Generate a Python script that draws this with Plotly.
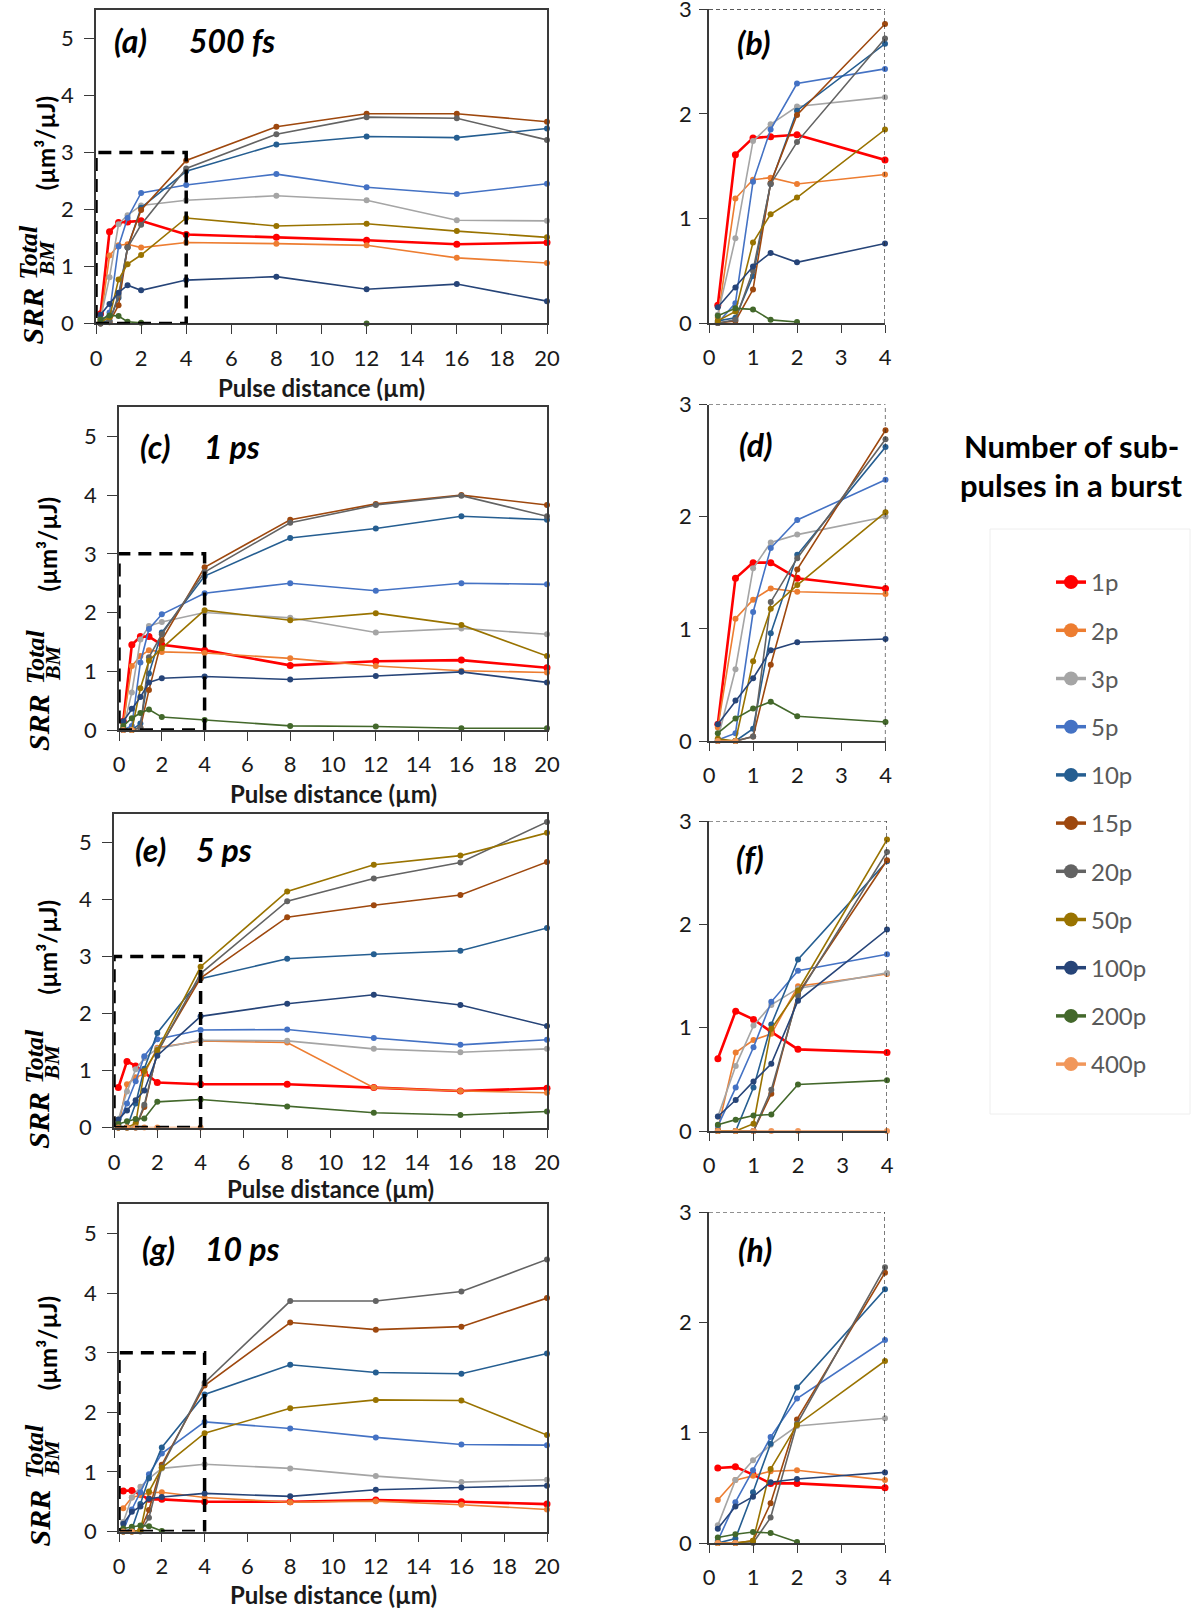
import plotly.graph_objects as go

W, H = 1201, 1609

# ---------------- data ----------------
X_DIST = [0.2, 0.6, 1, 1.4, 2, 4, 8, 12, 16, 20]
N_ZOOM = 6  # distances <= 4 µm shown in the zoomed panels

SERIES = ["1p", "2p", "3p", "5p", "10p", "15p", "20p", "50p", "100p", "200p", "400p"]
COLORS = ["#FF0000", "#ED7D31", "#A5A5A5", "#4472C4", "#255E91", "#9E480E",
          "#636363", "#997300", "#264478", "#43682B", "#F1975A"]

LEFT_X_TICKS = [0, 2, 4, 6, 8, 10, 12, 14, 16, 18, 20]
RIGHT_X_TICKS = [0, 1, 2, 3, 4]
LEFT_Y_TICKS = [0, 1, 2, 3, 4, 5]
RIGHT_Y_TICKS = [0, 1, 2, 3]
ZOOM_X = [0, 4]
ZOOM_Y = [0, 3]

# 500 fs
fs500_1p = [0.17, 1.61, 1.77, 1.78, 1.80, 1.56, 1.51, 1.46, 1.39, 1.42]
fs500_2p = [0.05, 1.19, 1.37, 1.39, 1.33, 1.42, 1.40, 1.37, 1.15, 1.06]
fs500_3p = [0.08, 0.81, 1.74, 1.90, 2.07, 2.16, 2.24, 2.16, 1.81, 1.80]
fs500_5p = [0.00, 0.19, 1.35, 1.85, 2.29, 2.43, 2.62, 2.39, 2.27, 2.45]
fs500_10p = [0.02, 0.05, 0.45, 1.33, 2.03, 2.67, 3.14, 3.28, 3.26, 3.42]
fs500_15p = [0.00, 0.02, 0.32, 1.34, 1.99, 2.86, 3.45, 3.68, 3.68, 3.54]
fs500_20p = [0.00, 0.03, 0.50, 1.33, 1.73, 2.72, 3.32, 3.62, 3.60, 3.22]
fs500_50p = [0.02, 0.11, 0.77, 1.04, 1.20, 1.85, 1.71, 1.75, 1.62, 1.51]
fs500_100p = [0.15, 0.34, 0.54, 0.67, 0.58, 0.76, 0.82, 0.60, 0.69, 0.39]
fs500_200p = [0.07, 0.14, 0.13, 0.03, 0.01, None, None, 0.00, None, None]
fs500_400p = [None, None, None, None, None, None, None, None, None, None]

# 1 ps
ps1_1p = [0.15, 1.45, 1.59, 1.59, 1.45, 1.36, 1.10, 1.17, 1.19, 1.06]
ps1_2p = [0.12, 1.09, 1.26, 1.36, 1.33, 1.31, 1.22, 1.09, 1.01, 0.98]
ps1_3p = [0.02, 0.64, 1.54, 1.77, 1.84, 2.00, 1.91, 1.66, 1.73, 1.63]
ps1_5p = [0.01, 0.07, 1.15, 1.72, 1.97, 2.33, 2.50, 2.37, 2.50, 2.48]
ps1_10p = [0.00, 0.00, 0.11, 0.96, 1.66, 2.62, 3.27, 3.43, 3.64, 3.58]
ps1_15p = [0.00, 0.00, 0.04, 0.68, 1.53, 2.77, 3.58, 3.85, 4.00, 3.83]
ps1_20p = [0.00, 0.00, 0.04, 1.24, 1.63, 2.69, 3.53, 3.83, 3.99, 3.64]
ps1_50p = [0.02, 0.00, 0.71, 1.18, 1.39, 2.04, 1.87, 1.99, 1.79, 1.26]
ps1_100p = [0.15, 0.36, 0.56, 0.81, 0.88, 0.91, 0.86, 0.92, 0.99, 0.81]
ps1_200p = [0.07, 0.20, 0.29, 0.35, 0.22, 0.17, 0.07, 0.06, 0.03, 0.03]
ps1_400p = [0.00, 0.00, None, None, None, None, None, None, None, None]

# 5 ps
ps5_1p = [0.70, 1.16, 1.08, 0.96, 0.79, 0.76, 0.76, 0.70, 0.64, 0.69]
ps5_2p = [0.02, 0.76, 0.88, 0.94, 1.40, 1.52, 1.49, 0.70, 0.64, 0.61]
ps5_3p = [0.14, 0.63, 1.02, 1.22, 1.38, 1.53, 1.52, 1.38, 1.32, 1.38]
ps5_5p = [0.05, 0.42, 0.81, 1.25, 1.55, 1.71, 1.72, 1.57, 1.45, 1.54]
ps5_10p = [0.00, 0.00, 0.42, 1.03, 1.66, 2.61, 2.96, 3.04, 3.10, 3.50]
ps5_15p = [0.00, 0.00, 0.00, 0.36, 1.33, 2.62, 3.69, 3.90, 4.08, 4.66]
ps5_20p = [0.00, 0.00, 0.00, 0.40, 1.31, 2.70, 3.97, 4.37, 4.65, 5.36]
ps5_50p = [0.00, 0.00, 0.07, 0.99, 1.36, 2.82, 4.14, 4.61, 4.77, 5.17]
ps5_100p = [0.14, 0.30, 0.48, 0.65, 1.26, 1.95, 2.17, 2.33, 2.15, 1.78]
ps5_200p = [0.06, 0.11, 0.15, 0.16, 0.45, 0.49, 0.37, 0.26, 0.22, 0.28]
ps5_400p = [0.00, 0.00, 0.00, 0.00, 0.00, 0.00, None, None, None, None]

# 10 ps
ps10_1p = [0.68, 0.69, 0.62, 0.54, 0.54, 0.50, 0.50, 0.53, 0.50, 0.46]
ps10_2p = [0.39, 0.57, 0.61, 0.65, 0.66, 0.57, 0.49, 0.51, 0.45, 0.37]
ps10_3p = [0.16, 0.57, 0.75, 0.89, 1.06, 1.13, 1.06, 0.93, 0.83, 0.87]
ps10_5p = [0.02, 0.37, 0.66, 0.96, 1.31, 1.84, 1.73, 1.58, 1.46, 1.45]
ps10_10p = [0.00, 0.04, 0.46, 0.90, 1.41, 2.30, 2.80, 2.67, 2.65, 2.99]
ps10_15p = [0.00, 0.00, 0.02, 0.36, 1.12, 2.45, 3.51, 3.39, 3.44, 3.92]
ps10_20p = [0.00, 0.00, 0.00, 0.23, 1.08, 2.50, 3.87, 3.87, 4.03, 4.57]
ps10_50p = [0.00, 0.00, 0.02, 0.67, 1.07, 1.65, 2.07, 2.21, 2.20, 1.62]
ps10_100p = [0.13, 0.33, 0.42, 0.55, 0.58, 0.64, 0.59, 0.70, 0.74, 0.77]
ps10_200p = [0.05, 0.08, 0.10, 0.09, 0.01, None, None, None, None, None]
ps10_400p = [0.00, 0.00, None, None, None, None, None, None, None, None]

FS500 = [fs500_1p, fs500_2p, fs500_3p, fs500_5p, fs500_10p, fs500_15p,
         fs500_20p, fs500_50p, fs500_100p, fs500_200p, fs500_400p]
PS1 = [ps1_1p, ps1_2p, ps1_3p, ps1_5p, ps1_10p, ps1_15p,
       ps1_20p, ps1_50p, ps1_100p, ps1_200p, ps1_400p]
PS5 = [ps5_1p, ps5_2p, ps5_3p, ps5_5p, ps5_10p, ps5_15p,
       ps5_20p, ps5_50p, ps5_100p, ps5_200p, ps5_400p]
PS10 = [ps10_1p, ps10_2p, ps10_3p, ps10_5p, ps10_10p, ps10_15p,
        ps10_20p, ps10_50p, ps10_100p, ps10_200p, ps10_400p]

# ---------------- layout helpers ----------------
def px(p):
    return p / W


def py(p):
    return 1 - p / H


FONT = "Lato"
SERIF = "Liberation Serif"
TICK_FONT = dict(family=FONT, size=22, color="#1a1a1a")
AX_COLOR = "#3a3a3a"

ROWS = [
    dict(data=FS500, lab="(a)", dur="500 fs", rlab="(b)",
         L=(96, 547, 10, 323.4), R=(709, 885, 9.3, 323),
         lab_x=130, dur_x=232, lab_y=41, rlab_x=753, rlab_y=42,
         xt_y=387, srr_x=33, srr_v=0.12, unit_x=45),
    dict(data=PS1, lab="(c)", dur="1 ps", rlab="(d)",
         L=(119, 547, 407, 730), R=(709, 885.5, 404.5, 741),
         lab_x=155, dur_x=232, lab_y=446, rlab_x=755, rlab_y=445,
         xt_y=793, srr_x=39, srr_v=0.12, unit_x=47),
    dict(data=PS5, lab="(e)", dur="5 ps", rlab="(f)",
         L=(114, 547, 814, 1127.5), R=(709, 887, 821, 1131),
         lab_x=150, dur_x=224, lab_y=849, rlab_x=750, rlab_y=857,
         xt_y=1188, srr_x=39, srr_v=0.12, unit_x=47),
    dict(data=PS10, lab="(g)", dur="10 ps", rlab="(h)",
         L=(119, 547, 1204, 1531.5), R=(709, 885, 1212, 1543),
         lab_x=158, dur_x=242, lab_y=1248, rlab_x=755, rlab_y=1249,
         xt_y=1594, srr_x=39, srr_v=0.22, unit_x=47),
]

fig = go.Figure()
layout = {}
shapes = []
annotations = []


def axname(n):
    return ("x" if n == 1 else f"x{n}"), ("y" if n == 1 else f"y{n}")


def ann(text, x, y, size, family=FONT, color="black", xref="paper", yref="paper", angle=0):
    return dict(xref=xref, yref=yref, x=x, y=y, text=text, showarrow=False,
                xanchor="center", yanchor="middle", textangle=angle,
                font=dict(family=family, size=size, color=color))


def add_series(n, data, npts):
    xa, ya = axname(n)
    for name, color, vals in zip(SERIES, COLORS, data):
        is_red = name == "1p"
        fig.add_trace(go.Scatter(
            x=X_DIST[:npts], y=vals[:npts], xaxis=xa, yaxis=ya,
            mode="lines+markers", name=name, showlegend=False,
            line=dict(color=color, width=2.6 if is_red else 1.6),
            marker=dict(color=color, size=7 if is_red else 6),
            cliponaxis=False, connectgaps=False, hoverinfo="x+y+name"))


n = 0
for row in ROWS:
    # ---- left (full range) panel ----
    n += 1
    xa, ya = axname(n)
    l, r, t, b = row["L"]
    layout["xaxis" if n == 1 else f"xaxis{n}"] = dict(
        domain=[px(l), px(r)], range=[0, 20], anchor=ya,
        tickmode="array", tickvals=LEFT_X_TICKS, ticktext=[str(v) for v in LEFT_X_TICKS],
        ticks="outside", ticklen=9, tickwidth=1.3, tickcolor=AX_COLOR,
        showline=True, linecolor=AX_COLOR, linewidth=1.5, mirror=True,
        showgrid=False, zeroline=False, tickfont=TICK_FONT, ticklabelstandoff=5,
        ticklabeloverflow="allow")
    layout["yaxis" if n == 1 else f"yaxis{n}"] = dict(
        domain=[py(b), py(t)], range=[0, 5.5], anchor=xa,
        tickmode="array", tickvals=LEFT_Y_TICKS, ticktext=[str(v) for v in LEFT_Y_TICKS],
        ticks="outside", ticklen=10, tickwidth=1.3, tickcolor=AX_COLOR,
        showline=True, linecolor=AX_COLOR, linewidth=1.5, mirror=True,
        showgrid=False, zeroline=False, tickfont=TICK_FONT, ticklabelstandoff=6,
        ticklabeloverflow="allow")
    add_series(n, row["data"], len(X_DIST))
    shapes.append(dict(type="rect", xref=xa, yref=ya, x0=ZOOM_X[0], x1=ZOOM_X[1],
                       y0=ZOOM_Y[0], y1=ZOOM_Y[1], layer="above",
                       line=dict(color="black", width=3.5, dash="13px,8px")))
    annotations.append(ann("<b><i>" + row["lab"] + "</i></b>", px(row["lab_x"]), py(row["lab_y"]), 32))
    annotations.append(ann("<b><i>" + row["dur"] + "</i></b>", px(row["dur_x"]), py(row["lab_y"]), 32))
    annotations.append(ann("<b>Pulse distance (µm)</b>", px((l + r) / 2), py(row["xt_y"]), 24,
                           color="#1a1a1a"))
    sx, sv = row["srr_x"], row["srr_v"]
    annotations += [
        ann("<b><i>SRR</i></b>", px(sx), sv, 30, family=SERIF, yref=ya, angle=-90),
        ann("<b><i>Total</i></b>", px(sx - 4), sv + 1.12, 26, family=SERIF, yref=ya, angle=-90),
        ann("<b><i>BM</i></b>", px(sx + 13), sv + 1.02, 22, family=SERIF, yref=ya, angle=-90),
        ann("<b>(µm³/µJ)</b>", px(row["unit_x"]), 3.16, 24, yref=ya, angle=-90),
    ]

    # ---- right (zoom) panel ----
    n += 1
    xa, ya = axname(n)
    l, r, t, b = row["R"]
    layout[f"xaxis{n}"] = dict(
        domain=[px(l), px(r)], range=[0, 4], anchor=ya,
        tickmode="array", tickvals=RIGHT_X_TICKS, ticktext=[str(v) for v in RIGHT_X_TICKS],
        ticks="outside", ticklen=8, tickwidth=1.3, tickcolor=AX_COLOR,
        showline=True, linecolor=AX_COLOR, linewidth=1.5, mirror=False,
        showgrid=False, zeroline=False, tickfont=TICK_FONT, ticklabelstandoff=6,
        ticklabeloverflow="allow")
    layout[f"yaxis{n}"] = dict(
        domain=[py(b), py(t)], range=[0, 3], anchor=xa,
        tickmode="array", tickvals=RIGHT_Y_TICKS, ticktext=[str(v) for v in RIGHT_Y_TICKS],
        ticks="outside", ticklen=8, tickwidth=1.3, tickcolor=AX_COLOR,
        showline=True, linecolor=AX_COLOR, linewidth=1.5, mirror=False,
        showgrid=False, zeroline=False, tickfont=TICK_FONT, ticklabelstandoff=3,
        ticklabeloverflow="allow")
    add_series(n, row["data"], N_ZOOM)
    for (x0, x1, y0, y1) in [(ZOOM_X[0], ZOOM_X[1], ZOOM_Y[1], ZOOM_Y[1]),
                             (ZOOM_X[1], ZOOM_X[1], ZOOM_Y[0], ZOOM_Y[1])]:
        shapes.append(dict(type="line", xref=xa, yref=ya, x0=x0, x1=x1, y0=y0, y1=y1,
                           layer="above", line=dict(color="#222222", width=1.2, dash="4px,3px")))
    annotations.append(ann("<b><i>" + row["rlab"] + "</i></b>", px(row["rlab_x"]), py(row["rlab_y"]), 32))

# legend entries (symbol-only traces)
for name, color in zip(SERIES, COLORS):
    fig.add_trace(go.Scatter(x=[None], y=[None], mode="lines+markers", name=name,
                             legendgroup=name, showlegend=True,
                             line=dict(color=color, width=3.5),
                             marker=dict(color=color, size=14)))

annotations.append(ann("<b>Number of sub-</b>", px(1071), py(446), 31))
annotations.append(ann("<b>pulses in a burst</b>", px(1071), py(485), 31))
shapes.append(dict(type="rect", xref="paper", yref="paper", x0=px(990), x1=px(1190),
                   y0=py(1114), y1=py(529), line=dict(color="#eeeeee", width=1)))

fig.update_layout(
    width=W, height=H, margin=dict(l=0, r=0, t=0, b=0, autoexpand=False),
    paper_bgcolor="white", plot_bgcolor="white",
    showlegend=True,
    legend=dict(x=px(1051), y=py(560), xanchor="left", yanchor="top",
                font=dict(family=FONT, size=24, color="#595959"),
                tracegroupgap=14, bgcolor="rgba(0,0,0,0)", traceorder="grouped"),
    shapes=shapes, annotations=annotations, **layout)

fig.write_html("out.html",
               post_script="document.body.style.margin='0';document.body.style.overflow='hidden';")
